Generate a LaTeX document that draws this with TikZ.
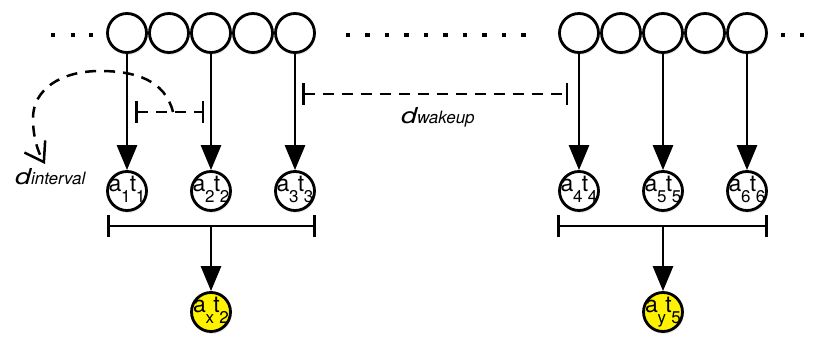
\documentclass[tikz,border=0pt]{standalone}
\usepackage{fontspec}
\setmainfont{TeX Gyre Heros}
\usetikzlibrary{arrows.meta,shadows}
\newcommand\sublow[1]{\raisebox{-11pt}{\fontsize{17}{17}\selectfont #1}}
\newcommand\atlbl[4]{\smash{\fontsize{23}{23}\selectfont #1\kern-0.3pt\sublow{#2}\kern-0.8pt #3\kern-0.3pt\sublow{#4}}}
\newcommand\dlabel[1]{{\fontsize{22}{22}\selectfont\itshape\scalebox{1.3}[1]{d}}{\fontsize{17}{17}\selectfont\itshape #1}}
\tikzset{
  bigc/.style={circle, draw, line width=2.8pt, fill=white, minimum size=39pt, inner sep=0pt,
    drop shadow={opacity=0.16, shadow xshift=1pt, shadow yshift=-2.5pt}},
  ylc/.style={bigc, fill=yellow},
  arr/.style={line width=2.8pt, -{Triangle[length=25pt,width=20pt]}},
  brk/.style={line width=2.8pt, {Bar[width=22pt]}-{Bar[width=22pt]}},
  dbrk/.style={line width=2.5pt, dash pattern=on 11pt off 8pt, {Bar[width=22pt]}-{Bar[width=22pt]}},
  darc/.style={line width=2.5pt, dash pattern=on 11pt off 8pt, -{Straight Barb[length=18pt,width=24pt]}},
  dlbl/.style={inner sep=0pt, anchor=base west}
}
\begin{document}
\begin{tikzpicture}[x=1pt,y=-1pt]
\useasboundingbox (0,0) rectangle (817,340);
% dots
\foreach \x in {53,73,91} \fill (\x-2.2,32.8) rectangle (\x+2.2,37.2);
\foreach \k in {0,...,9} \fill (348+19.5*\k-2.2,32.8) rectangle (348+19.5*\k+2.2,37.2);
\foreach \x in {783,802} \fill (\x-2.2,32.8) rectangle (\x+2.2,37.2);
% top circles
\foreach \i/\x in {1/127,2/169,3/211,4/253,5/295} \node[bigc] (t\i) at (\x,33) {};
\foreach \i/\x in {1/579,2/621,3/663,4/705,5/747} \node[bigc] (u\i) at (\x,33) {};
% small circles
\node[bigc] (a1) at (127,191) {\atlbl{a}{1}{t}{1}};
\node[bigc] (a2) at (211,191) {\atlbl{a}{2}{t}{2}};
\node[bigc] (a3) at (295,191) {\atlbl{a}{3}{t}{3}};
\node[bigc] (a4) at (579,191) {\atlbl{a}{4}{t}{4}};
\node[bigc] (a5) at (663,191) {\atlbl{a}{5}{t}{5}};
\node[bigc] (a6) at (747,191) {\atlbl{a}{6}{t}{6}};
\node[ylc] (ax) at (211,312) {\atlbl{a}{x}{t}{2}};
\node[ylc] (ay) at (663,312) {\atlbl{a}{y}{t}{5}};
% arrows
\draw[arr] (t1) -- (a1);
\draw[arr] (t3) -- (a2);
\draw[arr] (t5) -- (a3);
\draw[arr] (u1) -- (a4);
\draw[arr] (u3) -- (a5);
\draw[arr] (u5) -- (a6);
% brackets
\coordinate (bl1) at (107,226); \coordinate (br1) at (316,226); \coordinate (bm1) at (211,226);
\coordinate (bl2) at (557,226); \coordinate (br2) at (768,226); \coordinate (bm2) at (663,226);
\draw[brk] (bl1) -- (br1);
\draw[brk] (bl2) -- (br2);
\draw[arr] (bm1) -- (ax);
\draw[arr] (bm2) -- (ay);
% dashed intervals
\coordinate (il) at (135,112); \coordinate (ir) at (204,112);
\coordinate (wl) at (302,94); \coordinate (wr) at (568,94);
\draw[dbrk] (il) -- (ir);
\draw[dbrk] (wl) -- (wr);
\coordinate (ia) at (173,112); \coordinate (ie) at (45,164);
\draw[darc] (ia) .. controls (165,80) and (135,71) .. (100,71)
  .. controls (60,71) and (33,90) .. (33,118)
  .. controls (33,138) and (38,152) .. (ie);
% labels
\node[dlbl] (lint) at (15,184) {\dlabel{interval}};
\node[dlbl] (lwak) at (401,123) {\dlabel{wakeup}};
\end{tikzpicture}
\end{document}
